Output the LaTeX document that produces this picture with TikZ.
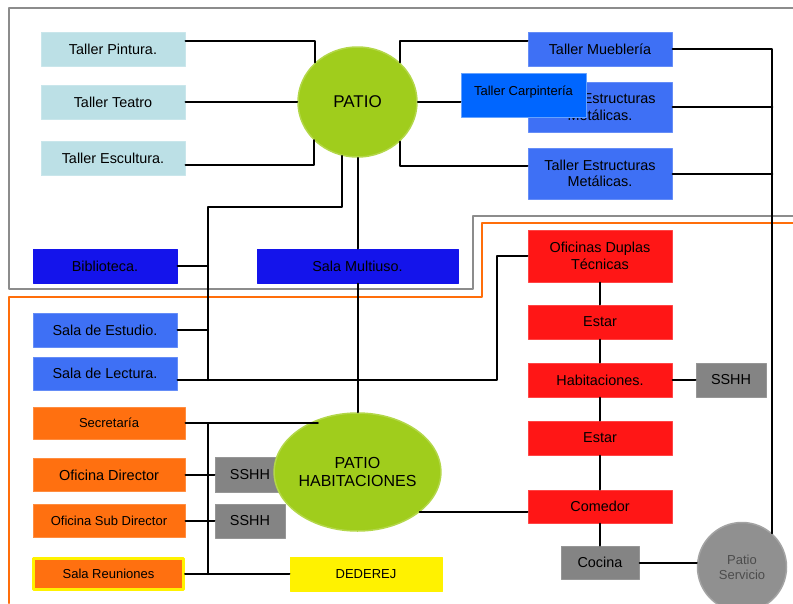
\documentclass[tikz,border=0pt]{standalone}
\usepackage{fontspec}
\setmainfont{Liberation Sans}
\usepackage{tikz}
\usetikzlibrary{positioning}
\usetikzlibrary{arrows.meta, shapes.geometric}

\definecolor{tallercyan}{RGB}{188,224,230}
\definecolor{patiogreen}{RGB}{160,205,28}
\definecolor{deepblue}{RGB}{20,20,235}
\definecolor{royalblue}{RGB}{62,112,245}
\definecolor{carpblue}{RGB}{0,102,255}
\definecolor{roomred}{RGB}{255,22,22}
\definecolor{roomorange}{RGB}{255,112,16}
\definecolor{roomgray}{RGB}{132,132,132}
\definecolor{framegray}{RGB}{140,140,140}
\definecolor{frameorange}{RGB}{255,110,10}

\begin{document}
\begin{tikzpicture}[x=1pt, y=-1pt, line cap=round, line join=round,
  room/.style={draw, line width=1pt, inner sep=0pt, align=center,
    minimum width=144pt, minimum height=34pt, font=\fontsize{14.4}{16.5}\selectfont},
  patio/.style={ellipse, draw, line width=1.5pt, inner sep=0pt, align=center},
  wire/.style={line width=2pt},
  frame/.style={line width=2.8pt}]

  \clip (0,0) rectangle (793,603);

  %--------------------------
  % Frames
  %--------------------------
  \draw[frame, framegray] (793,8) -- (9,8) -- (9,289) -- (473,289) -- (473,216) -- (793,216);
  \draw[frame, frameorange] (9,603) -- (9,297) -- (482,297) -- (482,223) -- (793,223);

  %--------------------------
  % Talleres around PATIO
  %--------------------------
  \node[room, fill=tallercyan, draw=tallercyan!80!white] (pintura) at (113,49) {Taller Pintura.};
  \node[room, fill=tallercyan, draw=tallercyan!80!white] (teatro) at (113,102) {Taller Teatro};
  \node[room, fill=tallercyan, draw=tallercyan!80!white] (escultura) at (113,158.5) {Taller Escultura.};

  \node[patio, fill=patiogreen, draw=patiogreen!80!white, minimum width=119pt, minimum height=110pt,
    font=\fontsize{17}{19}\selectfont] (patio) at (357.5,102) {PATIO};

  \node[room, fill=royalblue, draw=royalblue!80!white] (mueble) at (600,49) {Taller Mueblería};
  \node[room, fill=royalblue, draw=royalblue!80!white, minimum height=50pt] (estrucA) at (600,107)
    {Taller Estructuras\\Metálicas.};
  \node[room, fill=carpblue, draw=carpblue!60!white, minimum width=125pt, minimum height=44pt,
    text depth=8pt, font=\fontsize{13}{15}\selectfont] (carpinteria) at (523.5,95) {Taller Carpintería};
  \node[room, fill=royalblue, draw=royalblue!80!white, minimum height=51pt] (estrucB) at (600,173.5)
    {Taller Estructuras\\Metálicas.};

  \node[room, fill=deepblue, draw=deepblue] (biblioteca) at (105,266) {Biblioteca.};
  \node[room, fill=deepblue, draw=deepblue, minimum width=201pt] (multiuso) at (357.5,266) {Sala Multiuso.};

  %--------------------------
  % Lower left block
  %--------------------------
  \node[room, fill=royalblue, draw=royalblue!80!white] (estudio) at (105,330) {Sala de Estudio.};
  \node[room, fill=royalblue, draw=royalblue!80!white, minimum height=33pt] (lectura) at (105,373.5) {Sala de Lectura.};

  \node[room, fill=roomorange, draw=roomorange!80!white, minimum width=152pt, minimum height=32pt,
    font=\fontsize{13}{15}\selectfont] (secretaria) at (109,423) {Secretaría};
  \node[room, fill=roomorange, draw=roomorange!80!white, minimum width=152pt, minimum height=33pt,
    font=\fontsize{14.5}{16}\selectfont] (director) at (109,475) {Oficina Director};
  \node[room, fill=roomorange, draw=roomorange!80!white, minimum width=152pt, minimum height=33pt,
    font=\fontsize{13}{15}\selectfont] (subdirector) at (109,521) {Oficina Sub Director};
  \node[room, fill=roomorange, draw=yellow, line width=3pt, minimum width=150pt, minimum height=31pt,
    font=\fontsize{13}{15}\selectfont] (reuniones) at (108.5,574) {Sala Reuniones};

  \node[room, fill=roomgray, draw=roomgray!85!white, minimum width=70pt, minimum height=35pt] (sshhA) at (250,475) {SSHH};
  \node[room, fill=roomgray, draw=roomgray!85!white, minimum width=70pt, minimum height=34pt] (sshhB) at (250,521) {SSHH};

  \node[patio, fill=patiogreen, draw=patiogreen!80!white, minimum width=128pt, minimum height=118pt,
    font=\fontsize{16}{18}\selectfont] (patiohab) at (357.5,472) {PATIO\\HABITACIONES};

  \node[room, fill=yellow, draw=yellow, minimum width=152pt,
    font=\fontsize{13}{15}\selectfont] (dederej) at (366,574) {DEDEREJ};

  %--------------------------
  % Habitaciones column
  %--------------------------
  \node[room, fill=roomred, draw=roomred!80!white, minimum height=52pt] (duplas) at (600,256) {Oficinas Duplas\\Técnicas};
  \node[room, fill=roomred, draw=roomred!80!white] (estarA) at (600,322) {Estar};
  \node[room, fill=roomred, draw=roomred!80!white] (habitaciones) at (600,380) {Habitaciones.};
  \node[room, fill=roomred, draw=roomred!80!white] (estarB) at (600,438) {Estar};
  \node[room, fill=roomred, draw=roomred!80!white, minimum height=33pt] (comedor) at (600,506.5) {Comedor};
  \node[room, fill=roomgray, draw=roomgray!85!white, minimum width=78pt, minimum height=33pt] (cocina) at (600,562.5) {Cocina};
  \node[room, fill=roomgray, draw=roomgray!85!white, minimum width=70pt] (sshhC) at (731,380) {SSHH};

  \node[circle, draw=roomgray!75!white, fill=roomgray!90!white, line width=1.5pt, inner sep=0pt,
    minimum size=89pt, align=center, text=black!70, font=\fontsize{13}{15}\selectfont]
    (servicio) at (742,567) {Patio\\Servicio};

  %--------------------------
  % Connectors
  %--------------------------
  \coordinate (busL) at (208,207);
  \coordinate (busO) at (208,423);

  \draw[wire] ([yshift=8pt]pintura.east) -| (patio.137);
  \draw[wire] (teatro) -- (patio);
  \draw[wire] ([yshift=-6.5pt]escultura.east) -| (patio.221);

  \draw[wire] (patio.43) |- ([yshift=8pt]mueble.west);
  \draw[wire] (patio.east) -- (patio.east -| carpinteria.west);
  \draw[wire] (patio.317) |- ([yshift=7.5pt]estrucB.west);

  \draw[wire] (patio) -- (multiuso) -- (patiohab);

  \draw[wire] (patio.254) |- (busL) -- (busL |- 0,380);
  \draw[wire] (biblioteca.east) -- (biblioteca.east -| busL);
  \draw[wire] (estudio.east) -- (estudio.east -| busL);
  \draw[wire] ([yshift=-6.5pt]lectura.east) -| ([xshift=-31pt]duplas.west) -- (duplas.west);

  \draw[wire] (mueble.east) -| (servicio.48);
  \draw[wire] (estrucA.east) -- (estrucA.east -| servicio.48);
  \draw[wire] (estrucB.east) -- (estrucB.east -| servicio.48);

  \draw[wire] (duplas) -- (estarA) -- (habitaciones) -- (estarB) -- (comedor) -- (cocina);
  \draw[wire] (habitaciones) -- (sshhC);
  \draw[wire] (patiohab.-33) -- (patiohab.-33 -| comedor.west);
  \draw[wire] (cocina.east) -- (cocina.east -| servicio.west);

  \draw[wire] (secretaria.east) -- (secretaria.east -| patiohab.127);
  \draw[wire] (busO) -- (busO |- reuniones.east);
  \draw[wire] (director) -- (sshhA);
  \draw[wire] (subdirector) -- (sshhB);
  \draw[wire] (reuniones) -- (dederej);

\end{tikzpicture}
\end{document}
